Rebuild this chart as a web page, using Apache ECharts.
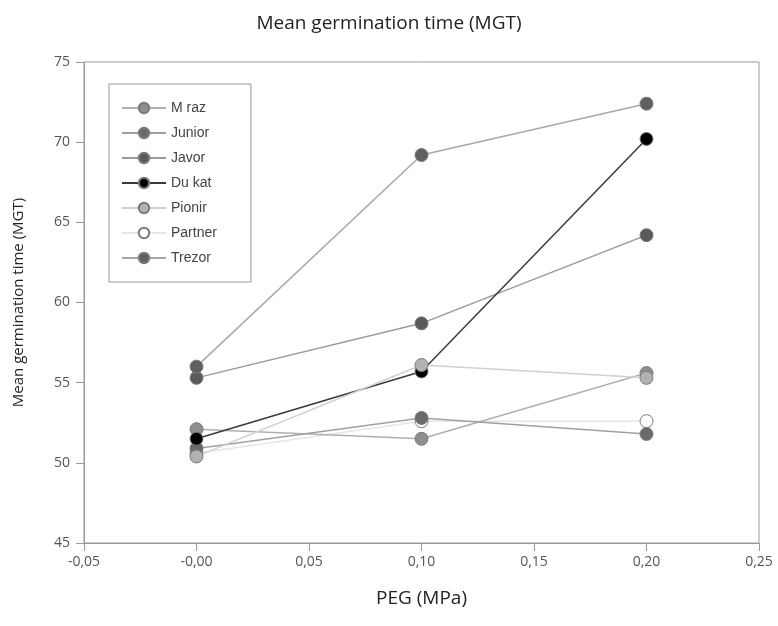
<!DOCTYPE html>
<html>
<head>
<meta charset="utf-8">
<script src="https://cdn.jsdelivr.net/npm/echarts@6/dist/echarts.min.js"></script>
<style>
  html, body { margin: 0; padding: 0; background: #fff; }
  #chart { width: 778px; height: 626px; }
</style>
</head>
<body>
<div id="chart"></div>
<script>
var peg = [0, 0.1, 0.2]
var names = ['Mraz', 'Junior', 'Javor', 'Dukat', 'Pionir', 'Partner', 'Trezor']
var legendLabels = ['M raz', 'Junior', 'Javor', 'Du kat', 'Pionir', 'Partner', 'Trezor']
var mraz = [52.1, 51.5, 55.6]
var junior = [50.9, 52.8, 51.8]
var javor = [55.3, 58.7, 64.2]
var dukat = [51.5, 55.7, 70.2]
var pionir = [50.4, 56.1, 55.3]
var partner = [50.6, 52.6, 52.6]
var trezor = [56.0, 69.2, 72.4]

var values = [mraz, junior, javor, dukat, pionir, partner, trezor]
var fills = ['#8e8e8e', '#6a6a6a', '#5a5a5a', '#000000', '#b2b2b2', '#ffffff', '#606060']
var lines = ['#b0b0b0', '#a0a0a0', '#9a9a9a', '#3a3a3a', '#d0d0d0', '#e6e6e6', '#a8a8a8']

var echart = echarts.init(document.getElementById('chart'))

var series = names.map(function (n, i) {
    return {
        name: n,
        type: 'line',
        // partner sits under the others, it is mostly hidden in the original
        z: n == 'Partner' ? 1 : 2,
        symbol: 'circle',
        symbolSize: 13,
        lineStyle: { color: lines[i], width: 1.5 },
        itemStyle: { color: fills[i], borderColor: '#7a7a7a', borderWidth: 1 },
        emphasis: { disabled: true },
        data: peg.map(function (x, j) { return [x, values[i][j]] })
    }
})

var option = {
    animation: false,
    title: {
        text: 'Mean germination time (MGT)',
        left: 'center',
        top: 9,
        textStyle: { fontFamily: 'Open Sans', fontSize: 19, fontWeight: 'normal', color: '#222' }
    },
    grid: {
        left: 84,
        right: 19,
        top: 62,
        bottom: 83,
        show: true,
        borderColor: '#999',
        borderWidth: 1
    },
    legend: {
        orient: 'vertical',
        left: 109,
        top: 84,
        data: names,
        itemWidth: 44,
        itemHeight: 13,
        itemGap: 11,
        padding: [17, 34, 17, 12],
        borderColor: '#999',
        borderWidth: 1,
        formatter: function (n) { return legendLabels[names.indexOf(n)] },
        textStyle: { fontFamily: 'Liberation Sans Narrow, Liberation Sans', fontSize: 14, color: '#444' }
    },
    xAxis: {
        type: 'value',
        min: -0.05,
        max: 0.25,
        interval: 0.05,
        name: 'PEG (MPa)',
        nameLocation: 'middle',
        nameGap: 46,
        nameTextStyle: { fontFamily: 'Open Sans', fontSize: 19, color: '#222' },
        axisLine: { onZero: false, lineStyle: { color: '#999' } },
        axisTick: { show: true, length: 8, lineStyle: { color: '#999' } },
        splitLine: { show: false },
        axisLabel: {
            margin: 12,
            fontFamily: 'Open Sans',
            fontSize: 14,
            color: '#555',
            formatter: function (v) {
                if (Math.abs(v) < 1e-9) return '-0,00'
                return v.toFixed(2).replace('.', ',')
            }
        }
    },
    yAxis: {
        type: 'value',
        min: 45,
        max: 75,
        interval: 5,
        name: 'Mean germination time (MGT)',
        nameLocation: 'middle',
        nameGap: 58,
        nameTextStyle: { fontFamily: 'Open Sans', fontSize: 15, color: '#222' },
        axisLine: { show: true, onZero: false, lineStyle: { color: '#999' } },
        axisTick: { show: true, length: 8, lineStyle: { color: '#999' } },
        splitLine: { show: false },
        axisLabel: { margin: 14, fontFamily: 'Open Sans', fontSize: 14, color: '#555' }
    },
    series: series
}

echart.setOption(option)
</script>
</body>
</html>
